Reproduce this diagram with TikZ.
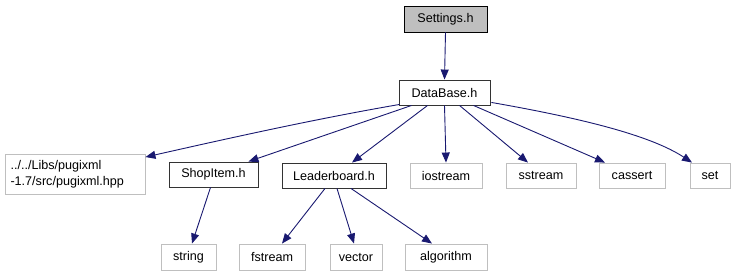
\documentclass[tikz,border=0pt]{standalone}
\usepackage{fontspec}
\setmainfont{Liberation Sans}
\usetikzlibrary{arrows.meta,calc}
\definecolor{edgeblue}{HTML}{191970}
\definecolor{lightframe}{HTML}{BFBFBF}
\definecolor{rootfill}{HTML}{BFBFBF}
\tikzset{
  box/.style={draw=black!80, line width=0.9pt, fill=white, inner sep=0pt,
    font=\fontsize{12.6}{14}\selectfont, text=black},
  extbox/.style={box, draw=lightframe},
  rootbox/.style={box, draw=black, fill=rootfill},
  dep/.style={draw=edgeblue, line width=0.9pt,
    -{Triangle[length=10pt, width=8pt, fill=edgeblue]}},
}
\begin{document}
\begin{tikzpicture}[x=1pt, y=-1pt]
\useasboundingbox (0,0) rectangle (735,276);

% header files of the project
\node[rootbox, minimum width=83pt, minimum height=26pt] (settings) at (445.5,19) {Settings.h};
\node[box, minimum width=91pt, minimum height=25pt] (database) at (444.5,92.5) {DataBase.h};
\node[box, minimum width=89pt, minimum height=25pt] (shopitem) at (213.5,174.5) {ShopItem.h};
\node[box, minimum width=104pt, minimum height=25pt] (leader) at (334,175.5) {Leaderboard.h};

% external and standard headers
\node[extbox, minimum width=140pt, minimum height=40pt, align=left, text width=129pt,
  font=\fontsize{12.6}{16}\selectfont] (pugi) at (75,174.5) {../../Libs/pugixml\\-1.7/src/pugixml.hpp};
\node[extbox, minimum width=72pt, minimum height=25pt] (iostream) at (446,175.5) {iostream};
\node[extbox, minimum width=70pt, minimum height=25pt] (sstream) at (541,175.5) {sstream};
\node[extbox, minimum width=66pt, minimum height=25pt] (cassert) at (632,175.5) {cassert};
\node[extbox, minimum width=40pt, minimum height=25pt] (set) at (710,175.5) {set};
\node[extbox, minimum width=55pt, minimum height=26pt] (string) at (188.5,257) {string};
\node[extbox, minimum width=66pt, minimum height=26pt] (fstream) at (272,257) {fstream};
\node[extbox, minimum width=52pt, minimum height=26pt] (vector) at (356,257) {vector};
\node[extbox, minimum width=82pt, minimum height=26pt] (algorithm) at (446,257) {algorithm};

% include dependencies
\draw[dep] (settings.south) -- (database.north);
\draw[dep] ($(database.south west)+(1,-1)$) .. controls (315,119) and (230,138) .. ($(pugi.north east)+(0,3)$);
\draw[dep] ($(database.south west)+(13,0)$) -- ($(shopitem.north east)+(-10,0)$);
\draw[dep] ($(database.south west)+(29,0)$) -- ($(leader.north)+(18,0)$);
\draw[dep] (database.south) -- (iostream.north);
\draw[dep] ($(database.south)+(15,0)$) -- ($(sstream.north)+(-13,0)$);
\draw[dep] ($(database.south)+(29,0)$) -- ($(cassert.north)+(-27,0)$);
\draw[dep] ($(database.south east)+(1,-3)$) .. controls (580,118) and (650,135) .. ($(set.north)+(-18,0)$);

\draw[dep] ($(shopitem.south)+(-3,0)$) -- ($(string.north)+(3.5,0)$);
\draw[dep] ($(leader.south)+(-9,0)$) -- ($(fstream.north)+(10,0)$);
\draw[dep] ($(leader.south)+(3,0)$) -- ($(vector.north)+(-2,0)$);
\draw[dep] ($(leader.south)+(17,0)$) -- ($(algorithm.north)+(-14,0)$);
\end{tikzpicture}
\end{document}
